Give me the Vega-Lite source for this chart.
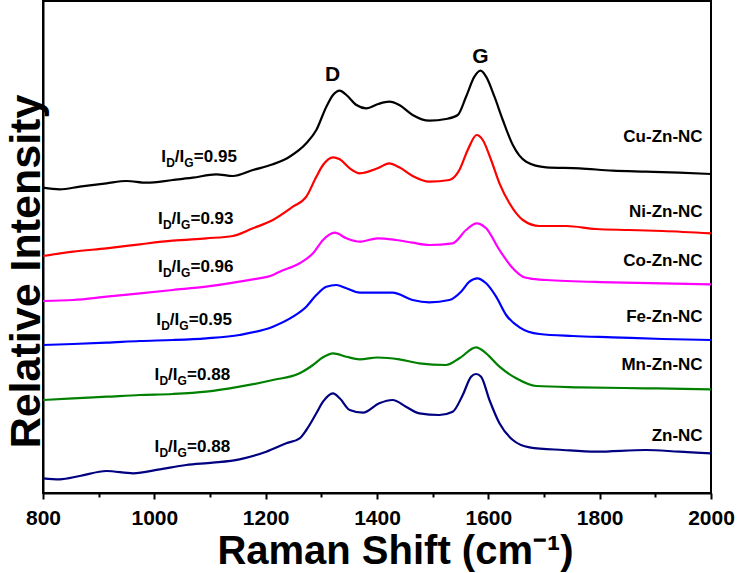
{
  "$schema": "https://vega.github.io/schema/vega-lite/v6.json",
  "width": 668,
  "height": 492,
  "autosize": {"type": "none"},
  "padding": {"left": 43, "top": 1, "right": 27, "bottom": 80},
  "background": "white",
  "config": {
    "font": "Liberation Sans",
    "view": {"stroke": "black", "strokeWidth": 2},
    "axis": {"grid": false, "domainColor": "black", "domainWidth": 2, "tickColor": "black", "tickWidth": 2, "labelColor": "black", "titleColor": "black", "labelFont": "Liberation Sans", "titleFont": "Liberation Sans", "labelFontWeight": "bold", "titleFontWeight": "bold"}
  },
  "datasets": {
    "spectra": [
      {"s": "Cu-Zn-NC", "x": 800, "y": 305.3}, {"s": "Cu-Zn-NC", "x": 830, "y": 303.7}, {"s": "Cu-Zn-NC", "x": 866, "y": 306.3}, {"s": "Cu-Zn-NC", "x": 914, "y": 309.7}, {"s": "Cu-Zn-NC", "x": 950, "y": 312}, {"s": "Cu-Zn-NC", "x": 986, "y": 310.3}, {"s": "Cu-Zn-NC", "x": 1033, "y": 313}, {"s": "Cu-Zn-NC", "x": 1069, "y": 315.3}, {"s": "Cu-Zn-NC", "x": 1111, "y": 318.7}, {"s": "Cu-Zn-NC", "x": 1141, "y": 317}, {"s": "Cu-Zn-NC", "x": 1177, "y": 323}, {"s": "Cu-Zn-NC", "x": 1213, "y": 328.7}, {"s": "Cu-Zn-NC", "x": 1243, "y": 336.3}, {"s": "Cu-Zn-NC", "x": 1273, "y": 349.7}, {"s": "Cu-Zn-NC", "x": 1291, "y": 363}, {"s": "Cu-Zn-NC", "x": 1309, "y": 386.3}, {"s": "Cu-Zn-NC", "x": 1321, "y": 398}, {"s": "Cu-Zn-NC", "x": 1333, "y": 402.3}, {"s": "Cu-Zn-NC", "x": 1345, "y": 398}, {"s": "Cu-Zn-NC", "x": 1363, "y": 388}, {"s": "Cu-Zn-NC", "x": 1381, "y": 384.7}, {"s": "Cu-Zn-NC", "x": 1402, "y": 389}, {"s": "Cu-Zn-NC", "x": 1422, "y": 391.3}, {"s": "Cu-Zn-NC", "x": 1440, "y": 388}, {"s": "Cu-Zn-NC", "x": 1464, "y": 378}, {"s": "Cu-Zn-NC", "x": 1494, "y": 372.3}, {"s": "Cu-Zn-NC", "x": 1524, "y": 374}, {"s": "Cu-Zn-NC", "x": 1545, "y": 378}, {"s": "Cu-Zn-NC", "x": 1560, "y": 396.3}, {"s": "Cu-Zn-NC", "x": 1575, "y": 416.3}, {"s": "Cu-Zn-NC", "x": 1586, "y": 422.3}, {"s": "Cu-Zn-NC", "x": 1596, "y": 416.3}, {"s": "Cu-Zn-NC", "x": 1611, "y": 396.3}, {"s": "Cu-Zn-NC", "x": 1626, "y": 373}, {"s": "Cu-Zn-NC", "x": 1644, "y": 348}, {"s": "Cu-Zn-NC", "x": 1668, "y": 331.3}, {"s": "Cu-Zn-NC", "x": 1704, "y": 325.7}, {"s": "Cu-Zn-NC", "x": 1764, "y": 324.7}, {"s": "Cu-Zn-NC", "x": 1823, "y": 322.3}, {"s": "Cu-Zn-NC", "x": 1883, "y": 321.3}, {"s": "Cu-Zn-NC", "x": 1943, "y": 320.3}, {"s": "Cu-Zn-NC", "x": 2000, "y": 319},

      {"s": "Ni-Zn-NC", "x": 800, "y": 237}, {"s": "Ni-Zn-NC", "x": 854, "y": 241.3}, {"s": "Ni-Zn-NC", "x": 914, "y": 244.7}, {"s": "Ni-Zn-NC", "x": 974, "y": 248.7}, {"s": "Ni-Zn-NC", "x": 1033, "y": 252.3}, {"s": "Ni-Zn-NC", "x": 1093, "y": 254.7}, {"s": "Ni-Zn-NC", "x": 1141, "y": 257}, {"s": "Ni-Zn-NC", "x": 1177, "y": 264.7}, {"s": "Ni-Zn-NC", "x": 1213, "y": 273}, {"s": "Ni-Zn-NC", "x": 1249, "y": 286.3}, {"s": "Ni-Zn-NC", "x": 1273, "y": 296.3}, {"s": "Ni-Zn-NC", "x": 1291, "y": 316.3}, {"s": "Ni-Zn-NC", "x": 1303, "y": 328}, {"s": "Ni-Zn-NC", "x": 1321, "y": 335.7}, {"s": "Ni-Zn-NC", "x": 1333, "y": 333.7}, {"s": "Ni-Zn-NC", "x": 1351, "y": 324.7}, {"s": "Ni-Zn-NC", "x": 1369, "y": 319.7}, {"s": "Ni-Zn-NC", "x": 1401, "y": 324.7}, {"s": "Ni-Zn-NC", "x": 1422, "y": 329.7}, {"s": "Ni-Zn-NC", "x": 1440, "y": 325.7}, {"s": "Ni-Zn-NC", "x": 1464, "y": 317}, {"s": "Ni-Zn-NC", "x": 1494, "y": 311.3}, {"s": "Ni-Zn-NC", "x": 1530, "y": 313}, {"s": "Ni-Zn-NC", "x": 1548, "y": 323}, {"s": "Ni-Zn-NC", "x": 1563, "y": 343}, {"s": "Ni-Zn-NC", "x": 1579, "y": 358}, {"s": "Ni-Zn-NC", "x": 1590, "y": 353}, {"s": "Ni-Zn-NC", "x": 1605, "y": 333}, {"s": "Ni-Zn-NC", "x": 1620, "y": 309.7}, {"s": "Ni-Zn-NC", "x": 1638, "y": 289.7}, {"s": "Ni-Zn-NC", "x": 1662, "y": 273}, {"s": "Ni-Zn-NC", "x": 1692, "y": 267}, {"s": "Ni-Zn-NC", "x": 1740, "y": 267}, {"s": "Ni-Zn-NC", "x": 1793, "y": 264}, {"s": "Ni-Zn-NC", "x": 1853, "y": 263}, {"s": "Ni-Zn-NC", "x": 1913, "y": 262}, {"s": "Ni-Zn-NC", "x": 2000, "y": 259.7},

      {"s": "Co-Zn-NC", "x": 800, "y": 192}, {"s": "Co-Zn-NC", "x": 854, "y": 193}, {"s": "Co-Zn-NC", "x": 914, "y": 196.3}, {"s": "Co-Zn-NC", "x": 974, "y": 199.7}, {"s": "Co-Zn-NC", "x": 1033, "y": 203}, {"s": "Co-Zn-NC", "x": 1093, "y": 206.3}, {"s": "Co-Zn-NC", "x": 1153, "y": 211.3}, {"s": "Co-Zn-NC", "x": 1177, "y": 213.7}, {"s": "Co-Zn-NC", "x": 1213, "y": 218}, {"s": "Co-Zn-NC", "x": 1225, "y": 221.3}, {"s": "Co-Zn-NC", "x": 1261, "y": 229.7}, {"s": "Co-Zn-NC", "x": 1285, "y": 239.7}, {"s": "Co-Zn-NC", "x": 1303, "y": 253}, {"s": "Co-Zn-NC", "x": 1324, "y": 260.3}, {"s": "Co-Zn-NC", "x": 1345, "y": 254.7}, {"s": "Co-Zn-NC", "x": 1369, "y": 251.3}, {"s": "Co-Zn-NC", "x": 1401, "y": 254.7}, {"s": "Co-Zn-NC", "x": 1434, "y": 253}, {"s": "Co-Zn-NC", "x": 1464, "y": 250.3}, {"s": "Co-Zn-NC", "x": 1494, "y": 248}, {"s": "Co-Zn-NC", "x": 1536, "y": 249.7}, {"s": "Co-Zn-NC", "x": 1560, "y": 263}, {"s": "Co-Zn-NC", "x": 1579, "y": 269.7}, {"s": "Co-Zn-NC", "x": 1596, "y": 264.7}, {"s": "Co-Zn-NC", "x": 1620, "y": 243}, {"s": "Co-Zn-NC", "x": 1644, "y": 224.7}, {"s": "Co-Zn-NC", "x": 1662, "y": 216.3}, {"s": "Co-Zn-NC", "x": 1674, "y": 214.7}, {"s": "Co-Zn-NC", "x": 1704, "y": 213}, {"s": "Co-Zn-NC", "x": 1823, "y": 210.7}, {"s": "Co-Zn-NC", "x": 2000, "y": 208.7},

      {"s": "Fe-Zn-NC", "x": 800, "y": 148}, {"s": "Fe-Zn-NC", "x": 854, "y": 149}, {"s": "Fe-Zn-NC", "x": 914, "y": 150.3}, {"s": "Fe-Zn-NC", "x": 974, "y": 152}, {"s": "Fe-Zn-NC", "x": 1033, "y": 153}, {"s": "Fe-Zn-NC", "x": 1093, "y": 154.7}, {"s": "Fe-Zn-NC", "x": 1153, "y": 158}, {"s": "Fe-Zn-NC", "x": 1213, "y": 166.3}, {"s": "Fe-Zn-NC", "x": 1249, "y": 176.3}, {"s": "Fe-Zn-NC", "x": 1273, "y": 186.3}, {"s": "Fe-Zn-NC", "x": 1291, "y": 198}, {"s": "Fe-Zn-NC", "x": 1309, "y": 206.3}, {"s": "Fe-Zn-NC", "x": 1327, "y": 208}, {"s": "Fe-Zn-NC", "x": 1345, "y": 204.7}, {"s": "Fe-Zn-NC", "x": 1369, "y": 200.3}, {"s": "Fe-Zn-NC", "x": 1401, "y": 200.3}, {"s": "Fe-Zn-NC", "x": 1428, "y": 200.3}, {"s": "Fe-Zn-NC", "x": 1464, "y": 193}, {"s": "Fe-Zn-NC", "x": 1494, "y": 190.7}, {"s": "Fe-Zn-NC", "x": 1530, "y": 193}, {"s": "Fe-Zn-NC", "x": 1551, "y": 201.3}, {"s": "Fe-Zn-NC", "x": 1566, "y": 211.3}, {"s": "Fe-Zn-NC", "x": 1580, "y": 214.7}, {"s": "Fe-Zn-NC", "x": 1596, "y": 209.7}, {"s": "Fe-Zn-NC", "x": 1614, "y": 196.3}, {"s": "Fe-Zn-NC", "x": 1632, "y": 178}, {"s": "Fe-Zn-NC", "x": 1656, "y": 165.7}, {"s": "Fe-Zn-NC", "x": 1692, "y": 159}, {"s": "Fe-Zn-NC", "x": 1752, "y": 157}, {"s": "Fe-Zn-NC", "x": 1823, "y": 155.7}, {"s": "Fe-Zn-NC", "x": 1913, "y": 154}, {"s": "Fe-Zn-NC", "x": 2000, "y": 153},

      {"s": "Mn-Zn-NC", "x": 800, "y": 93}, {"s": "Mn-Zn-NC", "x": 854, "y": 94.7}, {"s": "Mn-Zn-NC", "x": 914, "y": 96.3}, {"s": "Mn-Zn-NC", "x": 974, "y": 98}, {"s": "Mn-Zn-NC", "x": 1033, "y": 99}, {"s": "Mn-Zn-NC", "x": 1093, "y": 101.3}, {"s": "Mn-Zn-NC", "x": 1153, "y": 106.3}, {"s": "Mn-Zn-NC", "x": 1213, "y": 113}, {"s": "Mn-Zn-NC", "x": 1261, "y": 119.7}, {"s": "Mn-Zn-NC", "x": 1285, "y": 128}, {"s": "Mn-Zn-NC", "x": 1303, "y": 135.7}, {"s": "Mn-Zn-NC", "x": 1321, "y": 139.7}, {"s": "Mn-Zn-NC", "x": 1345, "y": 136.3}, {"s": "Mn-Zn-NC", "x": 1369, "y": 133.7}, {"s": "Mn-Zn-NC", "x": 1401, "y": 135.5}, {"s": "Mn-Zn-NC", "x": 1440, "y": 133.7}, {"s": "Mn-Zn-NC", "x": 1476, "y": 129.7}, {"s": "Mn-Zn-NC", "x": 1524, "y": 128}, {"s": "Mn-Zn-NC", "x": 1548, "y": 134.7}, {"s": "Mn-Zn-NC", "x": 1578, "y": 145.7}, {"s": "Mn-Zn-NC", "x": 1596, "y": 139.7}, {"s": "Mn-Zn-NC", "x": 1620, "y": 126.3}, {"s": "Mn-Zn-NC", "x": 1650, "y": 114.7}, {"s": "Mn-Zn-NC", "x": 1686, "y": 107}, {"s": "Mn-Zn-NC", "x": 1764, "y": 105.7}, {"s": "Mn-Zn-NC", "x": 1883, "y": 104.7}, {"s": "Mn-Zn-NC", "x": 2000, "y": 103.7},

      {"s": "Zn-NC", "x": 800, "y": 14.7}, {"s": "Zn-NC", "x": 830, "y": 13.7}, {"s": "Zn-NC", "x": 866, "y": 17}, {"s": "Zn-NC", "x": 914, "y": 22}, {"s": "Zn-NC", "x": 962, "y": 19.7}, {"s": "Zn-NC", "x": 1010, "y": 23.7}, {"s": "Zn-NC", "x": 1057, "y": 28}, {"s": "Zn-NC", "x": 1105, "y": 30.3}, {"s": "Zn-NC", "x": 1153, "y": 33.7}, {"s": "Zn-NC", "x": 1201, "y": 41.3}, {"s": "Zn-NC", "x": 1237, "y": 49.7}, {"s": "Zn-NC", "x": 1261, "y": 54.7}, {"s": "Zn-NC", "x": 1273, "y": 63}, {"s": "Zn-NC", "x": 1291, "y": 79.7}, {"s": "Zn-NC", "x": 1303, "y": 91.3}, {"s": "Zn-NC", "x": 1321, "y": 99.7}, {"s": "Zn-NC", "x": 1333, "y": 94.7}, {"s": "Zn-NC", "x": 1351, "y": 83}, {"s": "Zn-NC", "x": 1375, "y": 80.3}, {"s": "Zn-NC", "x": 1404, "y": 89.7}, {"s": "Zn-NC", "x": 1428, "y": 93}, {"s": "Zn-NC", "x": 1452, "y": 86.3}, {"s": "Zn-NC", "x": 1476, "y": 79.7}, {"s": "Zn-NC", "x": 1512, "y": 78}, {"s": "Zn-NC", "x": 1536, "y": 81.3}, {"s": "Zn-NC", "x": 1554, "y": 98}, {"s": "Zn-NC", "x": 1569, "y": 116.3}, {"s": "Zn-NC", "x": 1578, "y": 119}, {"s": "Zn-NC", "x": 1587, "y": 116.3}, {"s": "Zn-NC", "x": 1602, "y": 93}, {"s": "Zn-NC", "x": 1620, "y": 69.7}, {"s": "Zn-NC", "x": 1644, "y": 53}, {"s": "Zn-NC", "x": 1674, "y": 45.7}, {"s": "Zn-NC", "x": 1734, "y": 43}, {"s": "Zn-NC", "x": 1793, "y": 41.3}, {"s": "Zn-NC", "x": 1883, "y": 43}, {"s": "Zn-NC", "x": 1943, "y": 41.3}, {"s": "Zn-NC", "x": 2000, "y": 39.7}
    ],
    "names": [
      {"s": "Cu-Zn-NC", "x": 1985, "y": 355.7},
      {"s": "Ni-Zn-NC", "x": 1985, "y": 281.3},
      {"s": "Co-Zn-NC", "x": 1985, "y": 232},
      {"s": "Fe-Zn-NC", "x": 1985, "y": 176.3},
      {"s": "Mn-Zn-NC", "x": 1985, "y": 128},
      {"s": "Zn-NC", "x": 1985, "y": 57}
    ],
    "ratios": [
      {"s": "Cu-Zn-NC", "x": 1012.6, "y": 335.7, "r": "=0.95"},
      {"s": "Ni-Zn-NC", "x": 1006.5, "y": 274, "r": "=0.93"},
      {"s": "Co-Zn-NC", "x": 1006.5, "y": 226, "r": "=0.96"},
      {"s": "Fe-Zn-NC", "x": 1003.6, "y": 173, "r": "=0.95"},
      {"s": "Mn-Zn-NC", "x": 1000.5, "y": 118, "r": "=0.88"},
      {"s": "Zn-NC", "x": 1000.5, "y": 45.7, "r": "=0.88"}
    ],
    "bands": [
      {"band": "D", "x": 1320, "y": 418},
      {"band": "G", "x": 1586, "y": 436.3}
    ]
  },
  "encoding": {
    "x": {
      "field": "x", "type": "quantitative",
      "scale": {"domain": [800, 2000], "nice": false, "zero": false},
      "axis": {
        "title": "Raman Shift (cm⁻¹)",
        "values": [800, 900, 1000, 1100, 1200, 1300, 1400, 1500, 1600, 1700, 1800, 1900, 2000],
        "format": "d",
        "labelExpr": "datum.value % 200 === 0 ? datum.label : ''",
        "tickSize": {"condition": {"test": "datum.value % 200 !== 0", "value": 4}, "value": 6},
        "labelFontSize": 21,
        "labelPadding": 8,
        "labelFlush": false,
        "labelOverlap": false,
        "titleFontSize": 40,
        "titleBaseline": "alphabetic",
        "titleX": 352,
        "titleY": 70
      }
    },
    "y": {
      "field": "y", "type": "quantitative",
      "scale": {"domain": [0, 492], "nice": false, "zero": false},
      "axis": {
        "title": "Relative Intensity",
        "ticks": false,
        "labels": false,
        "titleFontSize": 43,
        "titleBaseline": "alphabetic",
        "titleAngle": -90,
        "titleX": -4,
        "titleY": 270
      }
    }
  },
  "layer": [
    {
      "data": {"name": "spectra"},
      "mark": {"type": "line", "strokeWidth": 2.2, "interpolate": "monotone"},
      "encoding": {
        "color": {
          "field": "s", "type": "nominal", "legend": null,
          "scale": {
            "domain": ["Cu-Zn-NC", "Ni-Zn-NC", "Co-Zn-NC", "Fe-Zn-NC", "Mn-Zn-NC", "Zn-NC"],
            "range": ["#000000", "#ff0000", "#ff00ff", "#0000ff", "#008000", "#000080"]
          }
        }
      }
    },
    {
      "data": {"name": "names"},
      "mark": {"type": "text", "align": "right", "baseline": "middle", "fontSize": 17, "fontWeight": "bold", "color": "black"},
      "encoding": {"text": {"field": "s"}}
    },
    {
      "data": {"name": "bands"},
      "mark": {"type": "text", "align": "center", "baseline": "middle", "fontSize": 21, "fontWeight": "bold", "color": "black"},
      "encoding": {"text": {"field": "band"}}
    },
    {
      "data": {"name": "ratios"},
      "mark": {"type": "text", "text": "I", "align": "left", "baseline": "middle", "fontSize": 17, "fontWeight": "bold", "color": "black"}
    },
    {
      "data": {"name": "ratios"},
      "mark": {"type": "text", "text": "D", "align": "left", "baseline": "middle", "fontSize": 12, "fontWeight": "bold", "color": "black", "dx": 5, "dy": 6}
    },
    {
      "data": {"name": "ratios"},
      "mark": {"type": "text", "text": "/I", "align": "left", "baseline": "middle", "fontSize": 17, "fontWeight": "bold", "color": "black", "dx": 13.5}
    },
    {
      "data": {"name": "ratios"},
      "mark": {"type": "text", "text": "G", "align": "left", "baseline": "middle", "fontSize": 12, "fontWeight": "bold", "color": "black", "dx": 23, "dy": 6}
    },
    {
      "data": {"name": "ratios"},
      "mark": {"type": "text", "align": "left", "baseline": "middle", "fontSize": 17, "fontWeight": "bold", "color": "black", "dx": 32.5},
      "encoding": {"text": {"field": "r"}}
    }
  ]
}
